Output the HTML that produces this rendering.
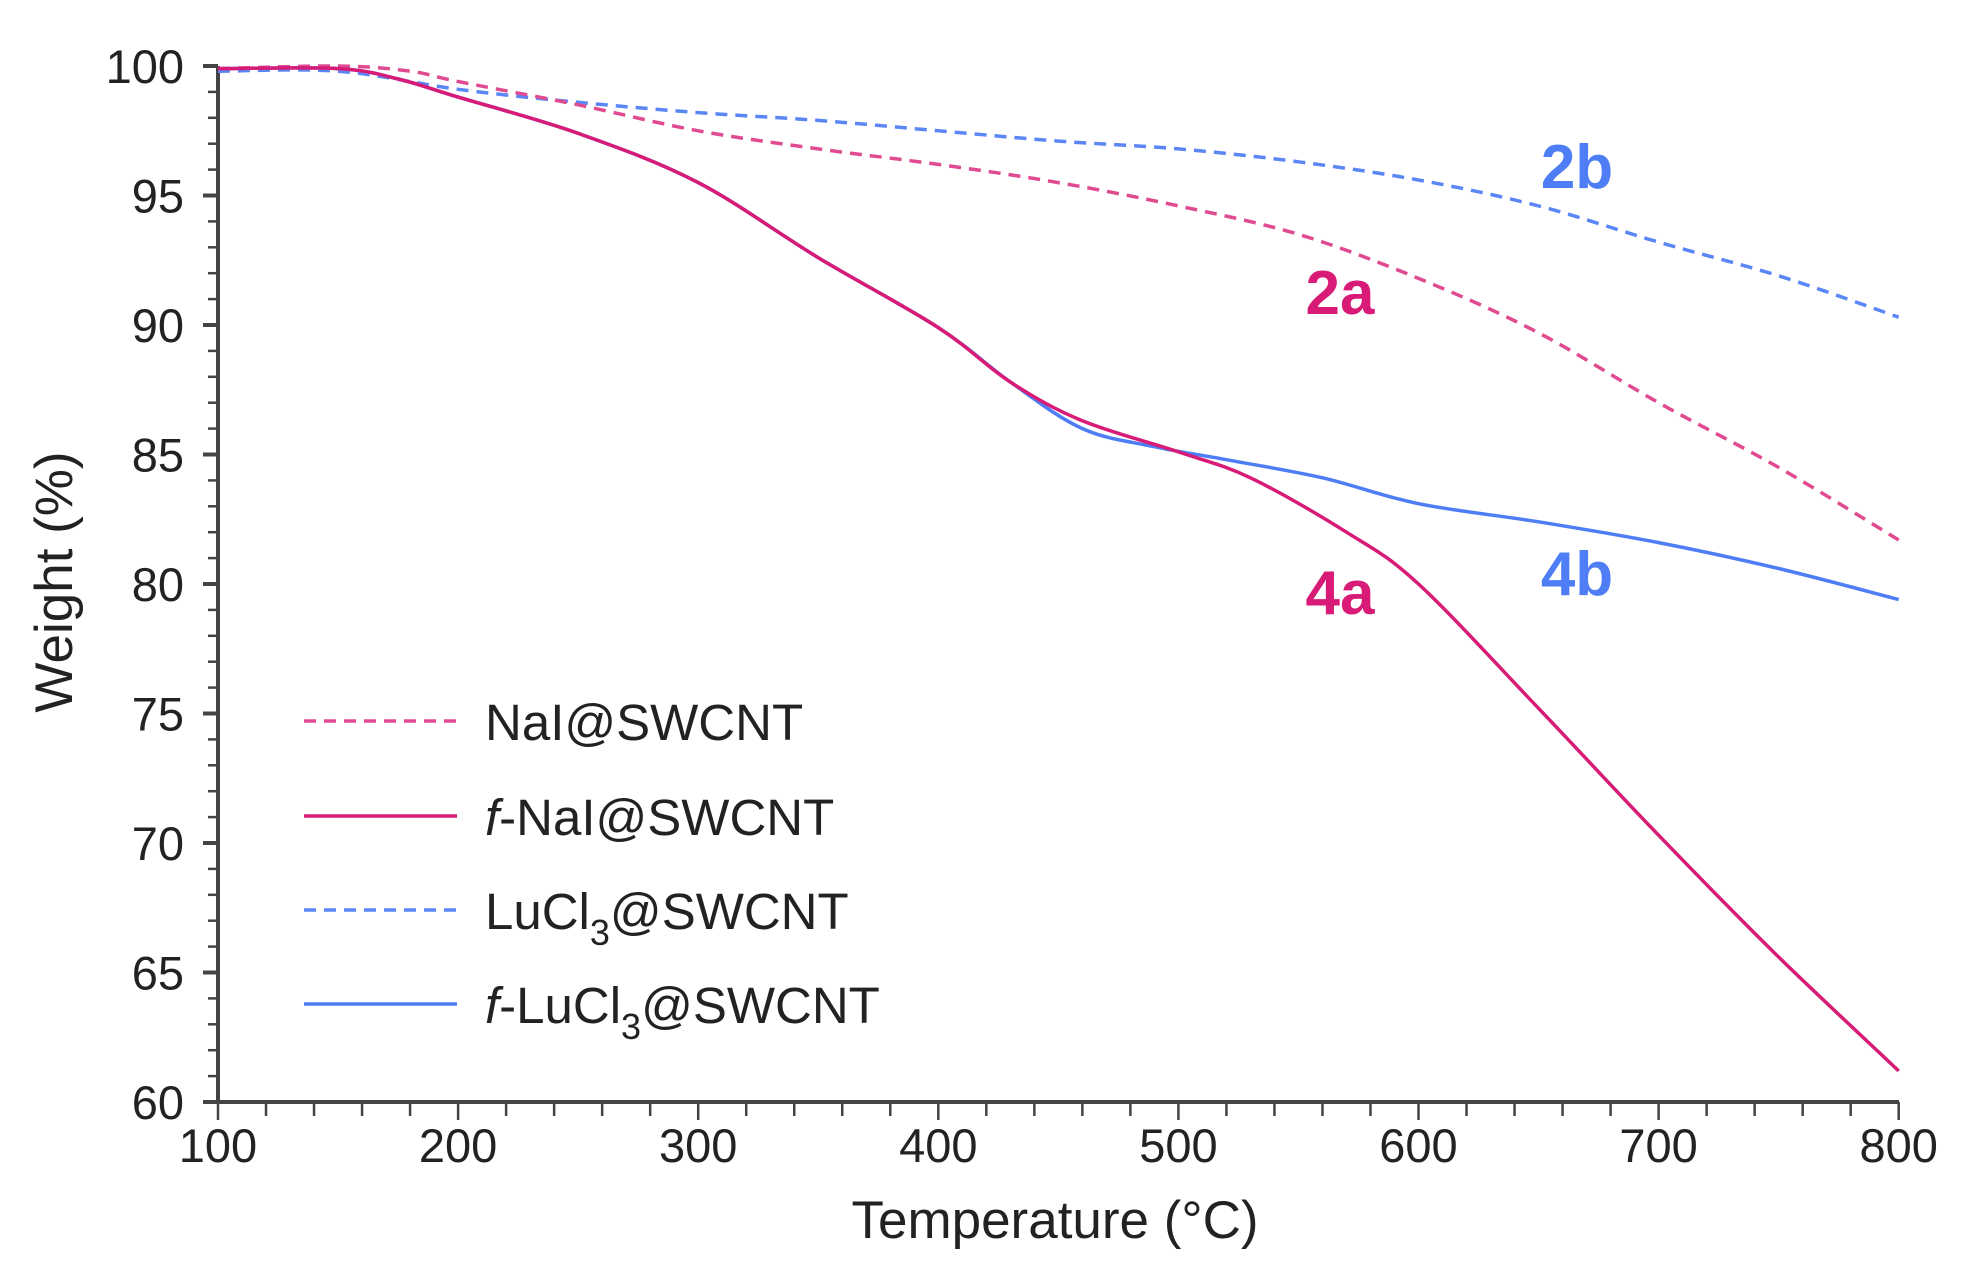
<!DOCTYPE html>
<html><head><meta charset="utf-8"><style>html,body{margin:0;padding:0;background:#fff}svg{display:block}text{font-family:"Liberation Sans",sans-serif}</style></head>
<body>
<svg id="s" width="1963" height="1275" viewBox="0 0 1963 1275" xmlns="http://www.w3.org/2000/svg">
<g id="ax" stroke="#444" stroke-width="4" fill="none"></g>
<g id="lab" font-size="47" fill="#222"></g>
<g id="cur" fill="none" stroke-width="3.5"></g>
<g font-size="62" font-weight="bold" text-anchor="middle">
<text x="1340" y="314" fill="#d81b77">2a</text>
<text x="1577" y="188" fill="#4f7df5">2b</text>
<text x="1340" y="614" fill="#d81b77">4a</text>
<text x="1577" y="595" fill="#4f7df5">4b</text>
</g>
<g stroke-width="3.5">
<line x1="304" y1="721" x2="457" y2="721" stroke="#e04a90" stroke-dasharray="12,8"/>
<line x1="304" y1="816" x2="457" y2="816" stroke="#d81b77"/>
<line x1="304" y1="910" x2="457" y2="910" stroke="#5b86f5" stroke-dasharray="12,8"/>
<line x1="304" y1="1004" x2="457" y2="1004" stroke="#4f7df5"/>
</g>
<g font-size="51" fill="#222">
<text x="485" y="740">NaI@SWCNT</text>
<text x="485" y="835"><tspan font-style="italic">f</tspan>-NaI@SWCNT</text>
<text x="485" y="929">LuCl<tspan font-size="36" dy="16">3</tspan><tspan dy="-16">@SWCNT</tspan></text>
<text x="485" y="1023"><tspan font-style="italic">f</tspan>-LuCl<tspan font-size="36" dy="16">3</tspan><tspan dy="-16">@SWCNT</tspan></text>
</g>
<text x="1055" y="1238" font-size="53" fill="#222" text-anchor="middle">Temperature (°C)</text>
<text transform="translate(72,582) rotate(-90)" font-size="53" fill="#222" text-anchor="middle">Weight (%)</text>
</svg>
<script>
var X=function(t){return 218+(t-100)*2.401},Y=function(w){return 66+(100-w)*25.9};
var ns="http://www.w3.org/2000/svg";
function el(p,n,a,txt){var e=document.createElementNS(ns,n);for(var k in a)e.setAttribute(k,a[k]);if(txt!==undefined)e.textContent=txt;document.getElementById(p).appendChild(e);}
el("ax","line",{x1:218,y1:66,x2:218,y2:1102});
el("ax","line",{x1:205,y1:1102,x2:1899,y2:1102});
el("ax","line",{x1:205,y1:66,x2:218,y2:66});
for(var w=60;w<=100;w++){var y=Y(w);if(w%5)el("ax","line",{x1:208,y1:y,x2:218,y2:y,"stroke-width":2.5});else{el("ax","line",{x1:203,y1:y,x2:218,y2:y});el("lab","text",{x:184,y:y+17,"text-anchor":"end"},w);}}
for(var t=100;t<=800;t+=20){var x=X(t);el("ax","line",{x1:x,y1:1102,x2:x,y2:t%100?1116:1120,"stroke-width":2.5});if(t%100==0)el("lab","text",{x:x,y:1162,"text-anchor":"middle"},t);}
function pl(pts,col,dash){var P=pts.map(function(p){return [X(p[0]),Y(p[1])]});var d="M"+P[0][0].toFixed(1)+","+P[0][1].toFixed(1);
for(var i=0;i<P.length-1;i++){var p0=P[Math.max(i-1,0)],p1=P[i],p2=P[i+1],p3=P[Math.min(i+2,P.length-1)];
var c1=[p1[0]+(p2[0]-p0[0])/6,p1[1]+(p2[1]-p0[1])/6],c2=[p2[0]-(p3[0]-p1[0])/6,p2[1]-(p3[1]-p1[1])/6];
d+=" C"+c1[0].toFixed(1)+","+c1[1].toFixed(1)+" "+c2[0].toFixed(1)+","+c2[1].toFixed(1)+" "+p2[0].toFixed(1)+","+p2[1].toFixed(1);}
var a={d:d,stroke:col};if(dash)a["stroke-dasharray"]=dash;el("cur","path",a);}
var a2=[[100,99.9],[150,100],[180,99.8],[200,99.4],[250,98.5],[300,97.5],[350,96.8],[400,96.2],[450,95.5],[500,94.6],[550,93.5],[600,91.8],[650,89.7],[700,87],[750,84.5],[800,81.7]];
var b2=[[100,99.8],[150,99.8],[200,99.1],[250,98.6],[300,98.2],[350,97.9],[400,97.5],[450,97.1],[500,96.8],[550,96.3],[600,95.6],[650,94.6],[700,93.2],[750,91.9],[800,90.3]];
var common=[[100,99.9],[150,99.9],[175,99.5],[200,98.8],[250,97.4],[300,95.5],[350,92.6],[400,89.9],[430,87.8]];
var a4=common.concat([[460,86.3],[500,85.1],[530,84.1],[570,82],[600,80],[650,75.2],[700,70.3],[750,65.6],[800,61.2]]);
var b4=common.concat([[460,86],[490,85.3],[520,84.8],[560,84.1],[600,83.1],[650,82.4],[700,81.6],[750,80.6],[800,79.4]]);
pl(b2,"#5b86f5","12,8");pl(a2,"#e04a90","12,8");pl(b4,"#4f7df5");pl(a4,"#d81b77");
</script>
</body></html>
